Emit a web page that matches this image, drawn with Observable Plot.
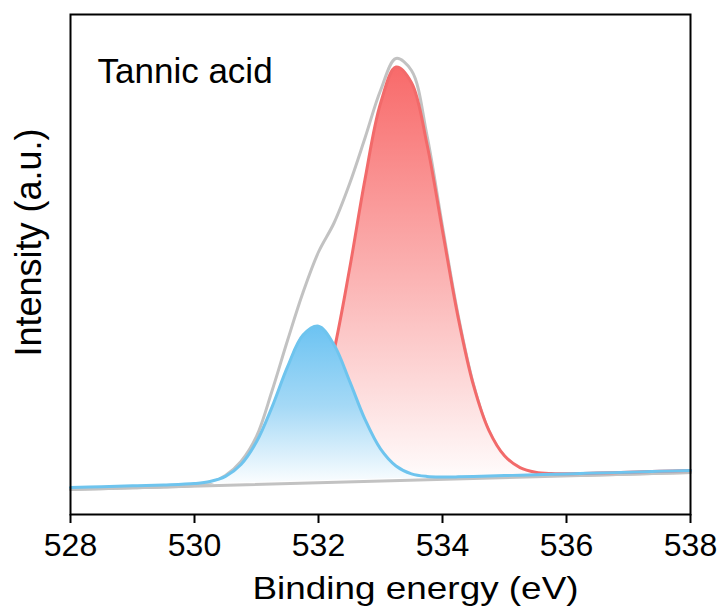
<!DOCTYPE html>
<html>
<head>
<meta charset="utf-8">
<script src="https://cdn.jsdelivr.net/npm/d3@7"></script>
<script src="https://cdn.jsdelivr.net/npm/@observablehq/plot@0.6"></script>
<style>
  html, body { margin: 0; padding: 0; background: #fff; }
</style>
</head>
<body>
<div id="chart"></div>
<script>
// Binding energy grid (eV)
const energy = [528, 528.5, 529, 529.5, 530, 530.25, 530.5, 530.75, 531, 531.25, 531.5, 531.75, 532, 532.25, 532.5, 532.75, 533, 533.25, 533.5, 533.75, 534, 534.25, 534.5, 534.75, 535, 535.25, 535.5, 535.75, 536, 536.5, 537, 537.5, 538];
// Background (fitted baseline)
const background = [5.40, 5.57, 5.74, 5.91, 6.08, 6.17, 6.25, 6.34, 6.42, 6.51, 6.59, 6.68, 6.76, 6.85, 6.93, 7.02, 7.10, 7.19, 7.27, 7.36, 7.44, 7.53, 7.61, 7.70, 7.78, 7.87, 7.95, 8.04, 8.12, 8.29, 8.46, 8.63, 8.80];
// Blue component (lower BE peak) incl. background
const bluePeak = [5.40, 5.57, 5.74, 5.91, 6.19, 6.59, 7.62, 9.99, 14.53, 21.48, 29.53, 35.88, 37.66, 33.95, 26.73, 19.02, 13.12, 9.71, 8.14, 7.61, 7.50, 7.53, 7.61, 7.70, 7.78, 7.87, 7.95, 8.04, 8.12, 8.29, 8.46, 8.63, 8.80];
// Red component (higher BE peak) incl. background
const redPeak = [5.40, 5.57, 5.74, 5.91, 6.08, 6.17, 6.27, 6.43, 6.74, 7.51, 9.34, 13.29, 20.74, 32.75, 49.03, 67.02, 82.2, 89.49, 86.37, 74.06, 56.74, 39.53, 25.81, 16.77, 11.74, 9.39, 8.46, 8.19, 8.16, 8.29, 8.46, 8.63, 8.80];
// Measured spectrum (gray envelope)
const measured = [5.0, 5.17, 5.34, 5.51, 5.8, 6.3, 7.8, 10.6, 15.6, 24.7, 34.8, 44.4, 52.5, 58.3, 66.1, 75.3, 84.8, 91.2, 88.8, 75.8, 57.6, 40.0, 26.0, 16.6, 11.6, 9.2, 8.3, 7.95, 7.8, 7.89, 8.06, 8.23, 8.40];
// Gray raw baseline end points
const rawBaseE = [528, 538];
const rawBaseI = [5.0, 8.4];

const xTicks = [528, 530, 532, 534, 536, 538];
const sampleLabel = "Tannic acid";
const xTitle = "Binding energy (eV)";
const yTitle = "Intensity (a.u.)";

const rows = energy.map((e, i) => ({e, b: background[i], blue: bluePeak[i], red: redPeak[i], meas: measured[i]}));
const redLineRows = rows.filter(d => d.e >= 531.75);
const baseRows = rawBaseE.map((e, i) => ({e, v: rawBaseI[i]}));

const curve = "catmull-rom";
const font = "'Liberation Sans', Arial, Helvetica, sans-serif";

const svg = Plot.plot({
  width: 722,
  height: 610,
  marginLeft: 70,
  marginRight: 32,
  marginTop: 14,
  marginBottom: 96,
  style: {fontFamily: font, background: "white", color: "black", overflow: "visible"},
  x: {domain: [528, 538]},
  y: {domain: [0, 100], axis: null},
  marks: [
    Plot.line(baseRows, {x: "e", y: "v", stroke: "#c2c2c2", strokeWidth: 3}),
    Plot.line(rows, {x: "e", y: "meas", stroke: "#c2c2c2", strokeWidth: 3, curve}),
    Plot.areaY(rows, {x: "e", y1: "b", y2: "red", fill: "url(#redGrad)", curve}),
    Plot.line(redLineRows, {x: "e", y: "red", stroke: "#f26a6a", strokeWidth: 3, curve}),
    Plot.areaY(rows, {x: "e", y1: "b", y2: "blue", fill: "url(#blueGrad)", curve}),
    Plot.line(rows, {x: "e", y: "blue", stroke: "#6ec4ee", strokeWidth: 3, curve}),
    Plot.frame({stroke: "black", strokeWidth: 2}),
    Plot.axisX({ticks: xTicks, tickSize: 9, tickPadding: 10, fontSize: 32, tickFormat: d => String(d), label: null, strokeWidth: 2}),
    Plot.text([sampleLabel], {frameAnchor: "top-left", dx: 27, dy: 57, fontSize: 35, textAnchor: "start", lineAnchor: "middle", fill: "black"}),
    Plot.text([xTitle], {frameAnchor: "bottom", dx: 35, dy: 74, fontSize: 32, textAnchor: "middle", lineAnchor: "middle", fill: "black"}),
    Plot.text([yTitle], {frameAnchor: "left", dx: -41, dy: -22, fontSize: 36, rotate: -90, textAnchor: "middle", lineAnchor: "middle", fill: "black"})
  ]
});

// gradients
const NS = "http://www.w3.org/2000/svg";
const defs = document.createElementNS(NS, "defs");
function grad(id, stops) {
  const g = document.createElementNS(NS, "linearGradient");
  g.setAttribute("id", id);
  g.setAttribute("x1", "0"); g.setAttribute("y1", "0");
  g.setAttribute("x2", "0"); g.setAttribute("y2", "1");
  for (const [off, col] of stops) {
    const s = document.createElementNS(NS, "stop");
    s.setAttribute("offset", off);
    s.setAttribute("stop-color", col);
    g.appendChild(s);
  }
  defs.appendChild(g);
}
grad("redGrad", [["0", "#f86a6a"], ["0.5", "#fbb3b3"], ["1", "#ffffff"]]);
grad("blueGrad", [["0", "#6cc3f2"], ["0.5", "#a5d9f6"], ["1", "#ffffff"]]);
svg.insertBefore(defs, svg.firstChild);

// stretch x title to reference width
for (const t of svg.querySelectorAll("text")) {
  if (t.textContent === xTitle) {
    t.setAttribute("textLength", "326");
    t.setAttribute("lengthAdjust", "spacingAndGlyphs");
  }
}

document.getElementById("chart").appendChild(svg);
</script>
</body>
</html>
